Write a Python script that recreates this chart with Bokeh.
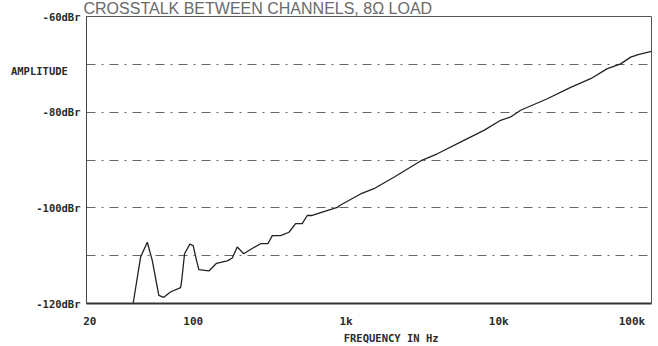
from bokeh.plotting import figure
from bokeh.models import FixedTicker, Range1d
from bokeh.embed import file_html
from bokeh.resources import INLINE

# ---- data ----
title_text = "CROSSTALK BETWEEN CHANNELS, 8\u03a9 LOAD"
freq = [40.4, 45.2, 50.0, 53.9, 59.5, 64.2, 70.9, 82.6, 84.0, 87.7, 95.0, 99.9,
        105, 108.8, 126.5, 142, 167, 180, 194, 214, 243, 276, 308, 329, 373,
        423, 468, 517, 557, 601, 699, 877, 921, 1245, 1522, 2058, 3078, 3962,
        5914, 8000, 10290, 11960, 13900, 20800, 29560, 39960, 51400, 62840,
        73050, 82800, 100000]
crosstalk_db = [-120.0, -110.3, -107.2, -111.0, -118.3, -118.7, -117.6, -116.7,
                -115.2, -109.6, -107.6, -107.9, -111.0, -112.9, -113.2, -111.6,
                -111.1, -110.5, -108.2, -109.6, -108.5, -107.5, -107.5, -105.8,
                -105.8, -105.1, -103.3, -103.3, -101.6, -101.6, -100.9, -99.9,
                -99.4, -97.1, -96.0, -93.6, -90.2, -88.7, -85.9, -83.8, -81.7,
                -81.0, -79.6, -77.2, -74.8, -73.0, -70.9, -69.9, -68.5, -67.9,
                -67.3]
x_ticks = [20, 100, 1000, 10000, 100000]
x_tick_labels = ["20", "100", "1k", "10k", "100k"]
y_ticks = [-120, -100, -80, -60]
y_tick_labels = ["-120dBr", "-100dBr", "-80dBr", "-60dBr"]
grid_levels = [-110, -100, -90, -80, -70]
x_title = "FREQUENCY IN Hz"
y_title = "AMPLITUDE"
y_title_level = -71.3

FONT = "DejaVu Sans Mono"
INK = "#2a2a2a"
NB = "\u00a0"

p = figure(width=658, height=346, x_axis_type="log",
           x_range=Range1d(20, 100000), y_range=Range1d(-120, -60),
           output_backend="svg", toolbar_location=None,
           min_border_left=86, min_border_right=7, min_border_top=16,
           min_border_bottom=43)
p.background_fill_color = "white"
p.border_fill_color = "white"
p.outline_line_color = "#555555"
p.outline_line_width = 1

# title
p.title.text = title_text
p.title.text_font = "Liberation Sans"
p.title.text_font_size = "16px"
p.title.text_font_style = "normal"
p.title.text_color = "#6a6a6a"
p.title.align = "left"
p.title.vertical_align = "top"
p.title.offset = -3
p.title.standoff = -4

# x axis
xax = p.xaxis[0]
xl = list(x_tick_labels)
xl[0] = NB + xl[0]
xl[-1] = xl[-1] + NB * 2
xax.ticker = FixedTicker(ticks=x_ticks)
xax.major_label_overrides = {t: s for t, s in zip(x_ticks, xl)}
xax.major_tick_out = 0
xax.major_tick_in = 0
xax.minor_tick_out = 0
xax.minor_tick_in = 0
xax.major_label_standoff = 11
xax.major_label_text_font = FONT
xax.major_label_text_font_style = "bold"
xax.major_label_text_font_size = "11px"
xax.major_label_text_color = INK
xax.axis_line_color = "#333333"
xax.axis_line_width = 2
xax.axis_label = NB * 7 + x_title
xax.axis_label_text_font = FONT
xax.axis_label_text_font_style = "bold"
xax.axis_label_text_font_size = "10.5px"
xax.axis_label_text_color = INK
xax.axis_label_standoff = 1

# y axis
yax = p.yaxis[0]
yt = y_ticks + [y_title_level]
yl = y_tick_labels + [y_title + NB * 2]
yax.ticker = FixedTicker(ticks=yt)
yax.major_label_overrides = {t: s for t, s in zip(yt, yl)}
yax.major_tick_out = 0
yax.major_tick_in = 0
yax.minor_tick_out = 0
yax.minor_tick_in = 0
yax.major_label_standoff = 6
yax.major_label_text_font = FONT
yax.major_label_text_font_style = "bold"
yax.major_label_text_font_size = "10.5px"
yax.major_label_text_color = INK
yax.axis_line_color = "#444444"
yax.axis_line_width = 1

# grid
p.xgrid.visible = False
p.ygrid.ticker = FixedTicker(ticks=grid_levels)
p.ygrid.grid_line_color = "#666666"
p.ygrid.grid_line_dash = "9 6 2 6"
p.ygrid.grid_line_width = 1

# curve
p.line(x=freq, y=crosstalk_db, line_color="#222222", line_width=1.3)

open("out.html", "w").write(file_html(p, INLINE))
